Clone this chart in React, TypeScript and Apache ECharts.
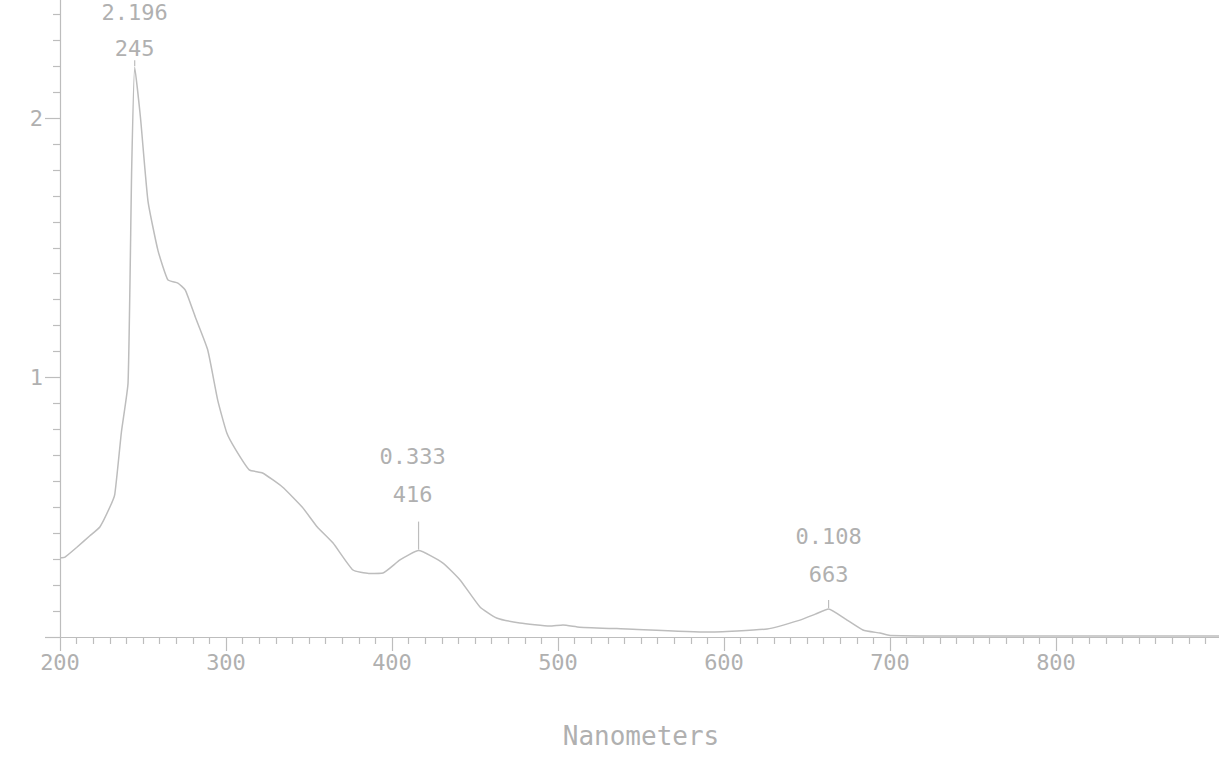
import React, { useEffect, useRef } from "react";
import * as echarts from "echarts";

// Spectrum trace (wavelength in nm, absorbance)
const wavelengthNm = [
  200, 203, 210, 218, 224, 230, 233, 237, 241, 243.2, 245, 248.5, 253, 259, 265, 271,
  275.5, 281.5, 289, 295, 300.5, 306, 314, 322, 334, 346, 355, 364.5, 376.5, 386,
  394.6, 404.8, 416, 430.7, 441, 453, 463, 477, 495, 503, 513, 541.6, 589.8, 626,
  645.8, 655, 663, 673, 683.7, 694, 700, 750, 800, 850, 900,
];
const absorbance = [
  0.305, 0.308, 0.345, 0.39, 0.424, 0.5, 0.55, 0.79, 0.98, 1.81, 2.196, 2.0, 1.68,
  1.49, 1.376, 1.364, 1.337, 1.233, 1.106, 0.913, 0.786, 0.72, 0.644, 0.632, 0.578,
  0.5, 0.424, 0.362, 0.258, 0.245, 0.247, 0.297, 0.333, 0.285, 0.22, 0.116, 0.073,
  0.054, 0.042, 0.046, 0.038, 0.031, 0.019, 0.031, 0.065, 0.088, 0.108, 0.07, 0.027,
  0.015, 0.006, 0.004, 0.004, 0.004, 0.004,
];

// Annotated peaks
const peakNm = [245, 416, 663];
const peakAbs = [2.196, 0.333, 0.108];

// Annotation styling (pixels)
const peakTickLen = [6, 28, 8];
const peakLabelDx = [0, -6, 0];
const peakLabelDy = [6, -8, -6];
const peakLineHeight = [36, 38, 38];

const INK = "#bdbdbd";
const TEXT = "#b0b0b0";
const MONO = "'DejaVu Sans Mono', 'Liberation Mono', monospace";

export default function App() {
  const ref = useRef<HTMLDivElement>(null);

  useEffect(() => {
    if (!ref.current) return;
    const chart = echarts.init(ref.current, null, { renderer: "svg" });
    const seriesData = wavelengthNm.map((x, i) => [x, absorbance[i]]);
    chart.setOption({
      animation: false,
      backgroundColor: "#ffffff",
      grid: {
        left: 60,
        right: -3,
        top: -141.5,
        bottom: 123,
        outerBoundsMode: "none",
      },
      xAxis: {
        type: "value",
        min: 200,
        max: 900,
        interval: 100,
        axisLine: { show: true, lineStyle: { color: INK, width: 1.2 } },
        axisTick: { show: true, length: 14, lineStyle: { color: INK, width: 1.2 } },
        minorTick: { show: true, splitNumber: 10, length: 7, lineStyle: { color: INK, width: 1.2 } },
        splitLine: { show: false },
        minorSplitLine: { show: false },
        axisLabel: {
          fontFamily: MONO,
          fontSize: 22,
          color: TEXT,
          margin: 14,
          showMaxLabel: false,
        },
        name: "Nanometers",
        nameLocation: "middle",
        nameGap: 86,
        nameTextStyle: { fontFamily: MONO, fontSize: 26, color: TEXT },
      },
      yAxis: {
        type: "value",
        min: 0,
        max: 3,
        interval: 1,
        axisLine: { show: true, lineStyle: { color: INK, width: 1.2 } },
        axisTick: { show: true, length: 15, lineStyle: { color: INK, width: 1.2 } },
        minorTick: { show: true, splitNumber: 10, length: 7, lineStyle: { color: INK, width: 1.2 } },
        splitLine: { show: false },
        minorSplitLine: { show: false },
        axisLabel: {
          fontFamily: MONO,
          fontSize: 22,
          color: TEXT,
          margin: 17,
          showMaxLabel: false,
          formatter: (v: number) => (v === 1 || v === 2 ? String(v) : ""),
        },
      },
      series: [
        {
          type: "line",
          data: seriesData,
          symbol: "none",
          smooth: 0.15,
          lineStyle: { color: INK, width: 1.5 },
          silent: true,
          markPoint: {
            silent: true,
            symbol: "rect",
            itemStyle: { color: INK },
            label: {
              show: true,
              position: "top",
              distance: 0,
              formatter: "{b}",
              fontFamily: MONO,
              fontSize: 22,
              lineHeight: 38,
              color: TEXT,
            },
            data: peakNm.map((nm, i) => ({
              name: `${peakAbs[i].toFixed(3)}\n${nm}`,
              coord: [nm, peakAbs[i]],
              symbolSize: [1.2, peakTickLen[i]],
              symbolOffset: [0, -(peakTickLen[i] / 2 + 1)],
              label: { offset: [peakLabelDx[i], peakLabelDy[i]], lineHeight: peakLineHeight[i] },
            })),
          },
        },
      ],
    });
    return () => chart.dispose();
  }, []);

  return (
    <div
      ref={ref}
      style={{ position: "absolute", left: 0, top: 0, width: 1219, height: 760, background: "#fff" }}
    />
  );
}
